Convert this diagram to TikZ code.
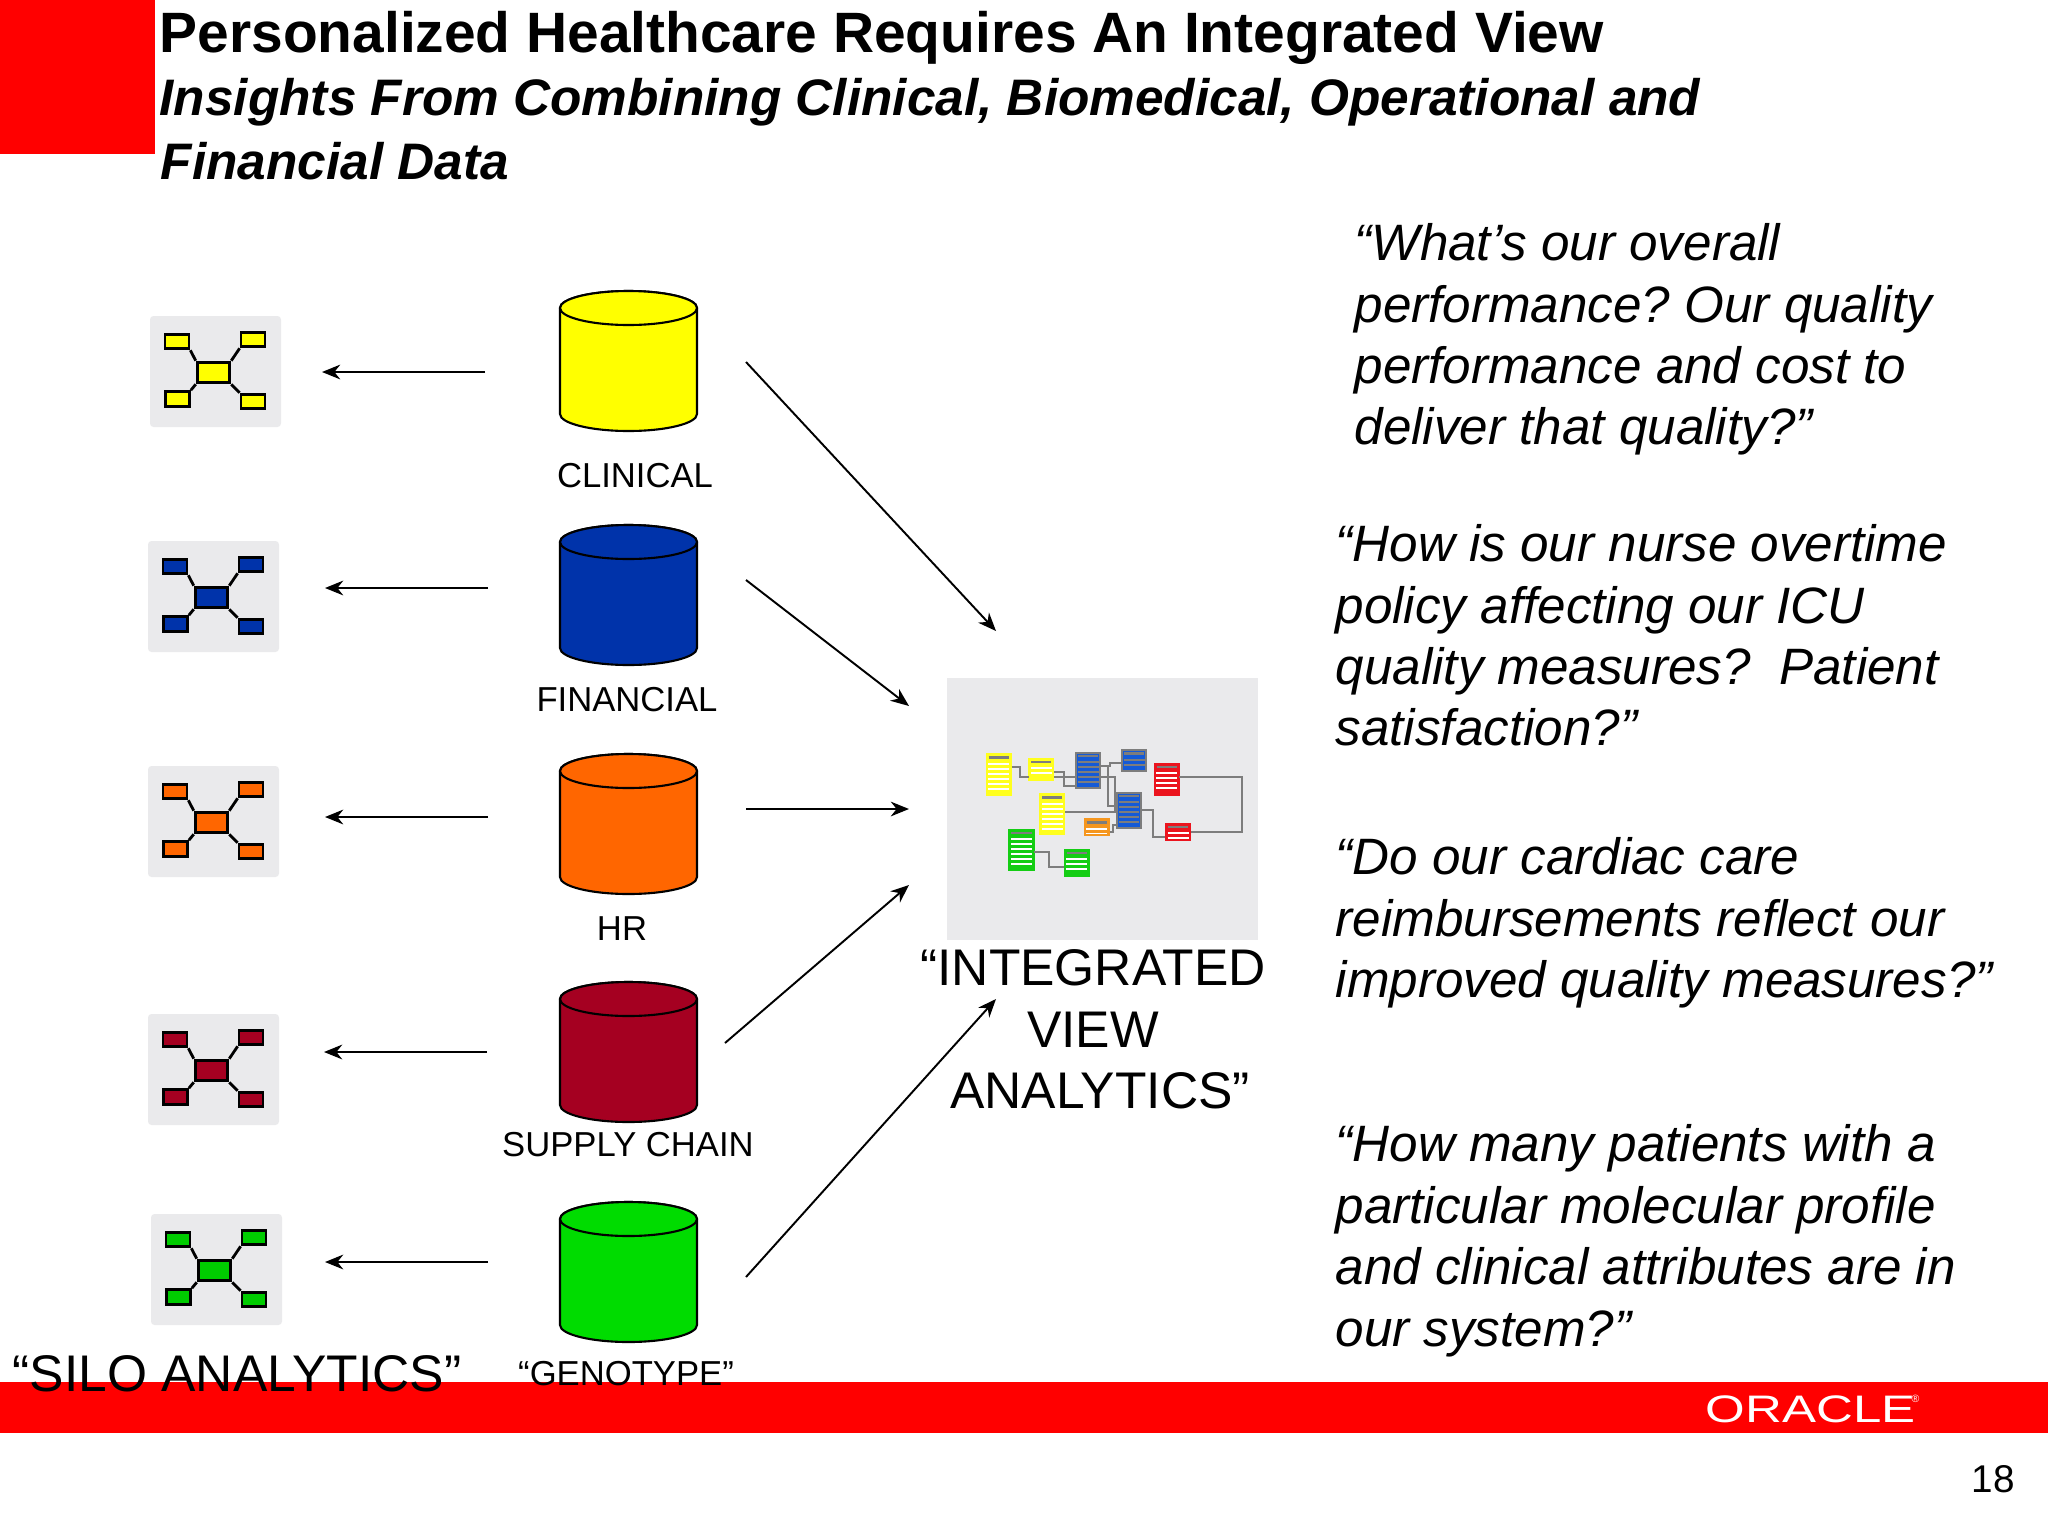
\documentclass[tikz,border=0pt]{standalone}
\usepackage{fontspec}
\usepackage{graphicx}
\setmainfont{Liberation Sans}
\usetikzlibrary{arrows.meta,fit,calc}
\frenchspacing
\definecolor{oraclered}{RGB}{255,0,0}
\definecolor{panelgray}{RGB}{234,234,236}
\definecolor{cylyellow}{RGB}{255,255,0}
\definecolor{cylblue}{RGB}{0,51,170}
\definecolor{cylorange}{RGB}{255,102,0}
\definecolor{cylred}{RGB}{165,0,33}
\definecolor{cylgreen}{RGB}{0,220,0}
\definecolor{icongreen}{RGB}{0,204,0}
\definecolor{tabblue}{RGB}{20,90,215}
\definecolor{tabgray}{RGB}{125,125,125}
\definecolor{tabyellow}{RGB}{255,255,30}
\definecolor{taborange}{RGB}{245,150,30}
\definecolor{tabred}{RGB}{235,20,30}
\definecolor{tabgreen}{RGB}{20,205,20}
\tikzset{
  flowarrow/.style={draw=black,line width=0.55pt,-{Stealth[length=5.2pt,width=4.2pt]}},
  titletext/.style={anchor=base west,font=\fontsize{16.18pt}{20pt}\selectfont\bfseries,inner sep=0pt},
  subtitletext/.style={anchor=base west,align=left,font=\fontsize{14.6pt}{18.1pt}\selectfont\bfseries\itshape,inner sep=0pt},
  quotetext/.style={anchor=north west,align=left,font=\fontsize{14.55pt}{17.46pt}\selectfont\itshape,inner sep=0pt},
  cyllabel/.style={anchor=base,font=\fontsize{9.85pt}{12pt}\selectfont,inner sep=0pt},
  biglabel/.style={font=\fontsize{14.65pt}{17.46pt}\selectfont,inner sep=0pt},
  wire/.style={draw=tabgray,line width=0.6pt},
  iconline/.style={draw=black,line width=0.8pt},
  iconbox/.style={draw=black,line width=0.8pt},
}
% name, left, top, fill
\newcommand{\cyldrum}[4]{%
  \path[fill=#4,draw=black,line width=0.6pt] (#2,#3+17) -- (#2,#3+123)
    arc[start angle=180,end angle=0,x radius=68.5,y radius=17] -- (#2+137,#3+17)
    arc[start angle=0,end angle=-180,x radius=68.5,y radius=17] -- cycle;
  \path[draw=black,line width=0.6pt,fill=#4] (#2+68.5,#3+17) ellipse[x radius=68.5,y radius=17];
  \node[inner sep=0pt,fit={(#2,#3)(#2+137,#3+140)}] (#1) {};
}
% name, left, top, fill
\newcommand{\siloicon}[4]{%
  \fill[panelgray,rounded corners=1pt] (#2,#3) rectangle (#2+131,#3+111);
  \node[inner sep=0pt,fit={(#2,#3)(#2+131,#3+111)}] (#1) {};
  \node[iconbox,fill=#4,inner sep=0pt,minimum width=9.3pt,minimum height=5.9pt] (#1c) at (#2+63.5,#3+56.5) {};
  \node[iconbox,fill=#4,inner sep=0pt,minimum width=6.8pt,minimum height=4.2pt] (#1a) at (#2+27,#3+25.5) {};
  \node[iconbox,fill=#4,inner sep=0pt,minimum width=6.8pt,minimum height=4.2pt] (#1b) at (#2+103,#3+23.5) {};
  \node[iconbox,fill=#4,inner sep=0pt,minimum width=6.8pt,minimum height=4.2pt] (#1d) at (#2+27.5,#3+83) {};
  \node[iconbox,fill=#4,inner sep=0pt,minimum width=6.8pt,minimum height=4.2pt] (#1e) at (#2+103,#3+85.5) {};
  \draw[iconline] (#1c.north west) -- (#1a.south east);
  \draw[iconline] (#1c.north east) -- (#1b.south west);
  \draw[iconline] (#1c.south west) -- (#1d.north east);
  \draw[iconline] (#1c.south east) -- (#1e.north west);
}
% name,x1,y1,x2,y2,border,fill,stripe,header  (units of the zoomed panel)
\newcommand{\minitab}[9]{%
  \fill[#7] (#2,#3) rectangle (#4,#5);
  \pgfmathsetmacro{\rowstart}{#3+29}
  \pgfmathsetmacro{\rownext}{#3+44}
  \pgfmathsetmacro{\rowend}{#5-7}
  \foreach \ry in {\rowstart,\rownext,...,\rowend}{
    \draw[#8,line width=0.6pt] (#2+5,\ry) -- (#4-5,\ry);
  }
  \draw[#9,line width=0.75pt] (#2+6,#3+10) -- (#4-6,#3+10);
  \draw[#6,line width=0.6pt] (#2,#3) rectangle (#4,#5);
  \node[inner sep=0pt,fit={(#2,#3)(#4,#5)}] (#1) {};
}
\begin{document}
\begin{tikzpicture}[x=0.01cm,y=-0.01cm]
\useasboundingbox (0,0) rectangle (2048,1536);
\fill[white] (0,0) rectangle (2048,1536);
% slide furniture
\fill[oraclered] (0,0) rectangle (155,154);
\fill[oraclered] (0,1382) rectangle (2048,1433);
\node[titletext] (title) at (159,52) {Personalized Healthcare Requires An Integrated View};
\node[subtitletext] (subtitle) at (159,115) {Insights From Combining Clinical, Biomedical, Operational and};
\node[subtitletext] (subtitleb) at (160,179) {Financial Data};
\node[anchor=base west,inner sep=0pt,text=white,font=\fontsize{10.9pt}{12pt}\selectfont] (logo) at (1705,1422) {\scalebox{1.33}[1]{ORACLE}};
\node[anchor=base west,inner sep=0pt,text=white,font=\fontsize{3pt}{4pt}\selectfont] (logor) at (1911,1402) {®};
\node[anchor=base west,inner sep=0pt,font=\fontsize{11pt}{14pt}\selectfont] (pagenum) at (1971,1492) {18};
% cylinders
\cyldrum{clin}{560}{291}{cylyellow}
\cyldrum{fin}{560}{525}{cylblue}
\cyldrum{hr}{560}{754}{cylorange}
\cyldrum{sup}{560}{982}{cylred}
\cyldrum{gen}{560}{1202}{cylgreen}
\node[cyllabel] (clinl) at (635,487) {CLINICAL};
\node[cyllabel] (finl) at (627,711) {FINANCIAL};
\node[cyllabel] (hrl) at (622,940) {HR};
\node[cyllabel] (supl) at (628,1156) {SUPPLY CHAIN};
\node[cyllabel] (genl) at (626,1385) {“GENOTYPE”};
% silo icons
\siloicon{ia}{150}{316}{cylyellow}
\siloicon{ib}{148}{541}{cylblue}
\siloicon{ic}{148}{766}{cylorange}
\siloicon{id}{148}{1014}{cylred}
\siloicon{ie}{151}{1214}{icongreen}
% arrow ends
\coordinate (la1) at (485,372); \coordinate (la2) at (322,372);
\coordinate (lb1) at (488,588); \coordinate (lb2) at (325,588);
\coordinate (lc1) at (488,817); \coordinate (lc2) at (325,817);
\coordinate (ld1) at (487,1052); \coordinate (ld2) at (324,1052);
\coordinate (le1) at (488,1262); \coordinate (le2) at (325,1262);
\coordinate (ra1) at (746,362); \coordinate (ra2) at (996,631);
\coordinate (rb1) at (746,580); \coordinate (rb2) at (909,706);
\coordinate (rc1) at (746,809); \coordinate (rc2) at (909,809);
\coordinate (rd1) at (725,1043); \coordinate (rd2) at (909,885);
\coordinate (re1) at (746,1277); \coordinate (re2) at (996,999);
\foreach \s/\e in {la1/la2,lb1/lb2,lc1/lc2,ld1/ld2,le1/le2,ra1/ra2,rb1/rb2,rc1/rc2,rd1/rd2,re1/re2}
  \draw[flowarrow] (\s) -- (\e);
% integrated panel
\fill[panelgray] (947,678) rectangle (1258,940);
\begin{scope}[shift={(930,660)},x=0.01cm/3,y=-0.01cm/3]
\minitab{ya}{170}{283}{243}{405}{tabyellow}{tabyellow}{white}{tabgray}
\minitab{yb}{298}{296}{370}{360}{tabyellow}{tabyellow}{white}{tabgray}
\minitab{yc}{331}{403}{403}{523}{tabyellow}{tabyellow}{white}{tabgray}
\minitab{ba}{438}{278}{511}{385}{tabgray}{tabblue}{tabgray}{tabgray}
\minitab{bb}{577}{270}{649}{333}{tabgray}{tabblue}{tabgray}{tabgray}
\minitab{bc}{561}{398}{633}{505}{tabgray}{tabblue}{tabgray}{tabgray}
\minitab{ra}{674}{311}{746}{404}{tabred}{tabred}{white}{tabgray}
\minitab{rb}{708}{491}{781}{540}{tabred}{tabred}{white}{tabgray}
\minitab{oa}{464}{477}{537}{526}{taborange}{taborange}{white}{tabgray}
\minitab{ga}{238}{509}{311}{631}{tabgreen}{tabgreen}{white}{tabgray}
\minitab{gb}{404}{569}{477}{647}{tabgreen}{tabgreen}{white}{tabgray}
\draw[wire] (ya.east |- 0,320) -- (270,320) -- (270,350) -- (yb.west |- 0,350);
\draw[wire] (yb.east |- 0,335) -- (403,335) -- (403,377) -- (ba.west |- 0,377);
\draw[wire] (yb.east |- 0,350) -- (ba.west |- 0,350);
\draw[wire] (ba.east |- 0,318) -- (540,318) -- (540,308) -- (bb.west |- 0,308);
\draw[wire] (ba.east |- 0,350) -- (555,350) -- (555,455) -- (bc.west |- 0,455);
\draw[wire] (ba.east |- 0,318) -- (535,318) -- (535,437) -- (bc.west |- 0,437);
\draw[wire] (yc.east |- 0,455) -- (bc.west |- 0,455);
\draw[wire] (oa.east |- 0,517) -- (548,517) -- (548,495) -- (bc.west |- 0,495);
\draw[wire] (bc.east |- 0,450) -- (670,450) -- (670,531) -- (rb.west |- 0,531);
\draw[wire] (ra.east |- 0,350) -- (935,350) -- (935,516) -- (rb.east |- 0,516);
\draw[wire] (ga.east |- 0,576) -- (356,576) -- (356,622) -- (gb.west |- 0,622);
\end{scope}
% big labels
\node[biglabel,align=center,anchor=north] (integrated) at (1093,949) {“INTEGRATED\\VIEW\\\hspace*{0.14cm}ANALYTICS”};
\node[biglabel,anchor=base west] (silo) at (12,1391) {“SILO ANALYTICS”};
% quotes
\node[quotetext] (qa) at (1354,223) {“What’s our overall\\performance? Our quality\\performance and cost to\\deliver that quality?”};
\node[quotetext] (qb) at (1335,524) {“How is our nurse overtime\\policy affecting our ICU\\quality measures?\ \ Patient\\satisfaction?”};
\node[quotetext] (qc) at (1335,837) {“Do our cardiac care\\reimbursements reflect our\\improved quality measures?”};
\node[quotetext] (qd) at (1335,1124) {“How many patients with a\\particular molecular profile\\and clinical attributes are in\\our system?”};
\end{tikzpicture}
\end{document}
